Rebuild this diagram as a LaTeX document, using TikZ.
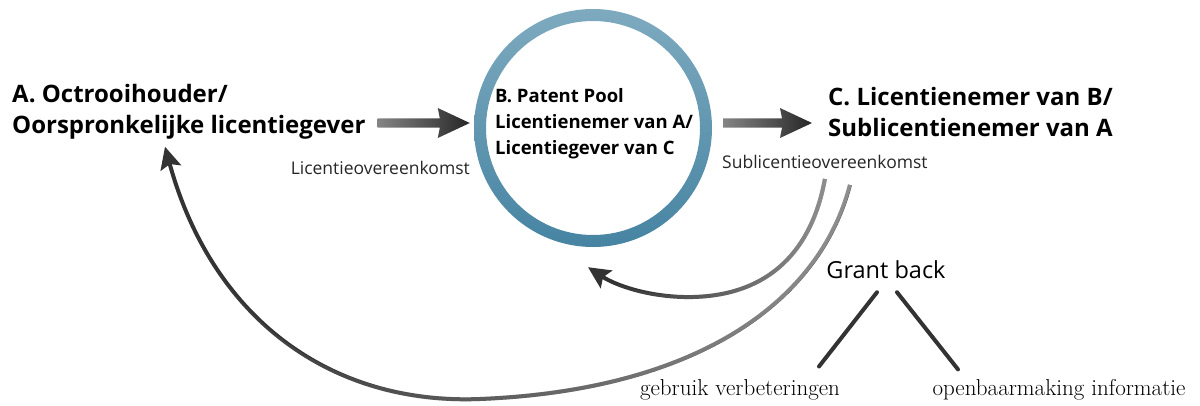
\documentclass[tikz,border=0pt]{standalone}
\usepackage{fontspec}
\setsansfont{Open Sans}
\usepackage{tikz}
\usetikzlibrary{calc,arrows.meta,fadings}
\definecolor{poollight}{RGB}{126,170,191}
\definecolor{pooldark}{RGB}{70,132,162}
\tikzfading[name=lighten right, left color=transparent!100, right color=transparent!55]
\def\gradarrow(#1)(#2){\shade[left color=black!48, right color=black!85] ($(#1)+(0,-4.7)$) -- ($(#2)+(-30,-4.7)$) -- ($(#2)+(-32,-15)$) -- (#2) -- ($(#2)+(-32,15)$) -- ($(#2)+(-30,4.7)$) -- ($(#1)+(0,4.7)$) -- cycle;}

\begin{document}
\begin{tikzpicture}[x=1pt, y=-1pt,
	party/.style={font=\sffamily\bfseries\fontsize{24}{31}\selectfont, align=left, inner sep=0pt},
	pooltext/.style={font=\sffamily\bfseries\fontsize{18.5}{26}\selectfont, align=left, inner sep=0pt},
	deal/.style={font=\sffamily\fontsize{17.5}{20}\selectfont, inner sep=0pt, text=black!85},
	back/.style={line width=4pt, draw=black!80, -{Stealth[length=22pt, width=21pt, inset=4pt]}},
	backfade/.style={line width=4pt, draw=white, path fading=lighten right},
	branch/.style={line width=4pt, draw=black!80, line cap=round},
	outcome/.style={font=\fontsize{23}{26}\selectfont, inner sep=0pt}]
			%%%%% START %%%%%
			\useasboundingbox (0,0) rectangle (1200,405);
			
			% the pool ring
			\node[circle, minimum size=238pt, inner sep=0pt] (pool) at (593,128) {};
			\shade[top color=poollight, bottom color=pooldark, even odd rule] (pool.center) circle (119) (pool.center) circle (107);
			
			\node[party, anchor=west] (owner) at (12,112) {A. Octrooihouder/\\Oorspronkelijke licentiegever};
			\node[pooltext, anchor=west] (pooltxt) at (495,124) {B. Patent Pool\\Licentienemer van A/\\Licentiegever van C};
			\node[party, anchor=west] (licensee) at (828,112) {C. Licentienemer van B/\\Sublicentienemer van A};
			
			\node[deal, anchor=east] (lic) at (470,168) {Licentieovereenkomst};
			\node[deal, anchor=west] (sublic) at (722,162) {Sublicentieovereenkomst};
			
			\node[font=\sffamily\fontsize{23.5}{26}\selectfont, inner sep=0pt] (grant) at (886,270) {Grant back};
			\node[outcome] (use) at (740,390) {gebruik verbeteringen};
			\node[outcome] (info) at (1059,390) {openbaarmaking informatie};
			
			% straight arrows A -> B -> C
			\coordinate (ab0) at ($(owner.east)+(12,11)$);
			\coordinate (ab1) at ($(pool.west)+(-4,-5)$);
			\gradarrow(ab0)(ab1)
			\coordinate (bc0) at ($(pool.east)+(11,-5)$);
			\coordinate (bc1) at ($(licensee.west)+(-16,11)$);
			\gradarrow(bc0)(bc1)
			
			% grant back to B
			\coordinate (r0) at ($(sublic.south)+(0,10)$);
			\coordinate (r1) at ($(pool.south)+(-5,20)$);
			\draw[back] (r0) .. controls (812,250) and (770,295) .. (693,297) .. controls (650,298) and (615,285) .. (r1);
			\draw[backfade] (r0) .. controls (812,250) and (770,295) .. (693,297) .. controls (650,298) and (625,290) .. (610,282);
			
			% grant back to A
			\coordinate (s0) at ($(sublic.south)+(25,16)$);
			\coordinate (s1) at ($(owner.south west)+(153,7)$);
			\draw[back] (s0) .. controls (820,300) and (700,390) .. (480,399) .. controls (330,405) and (212,318) .. (s1);
			\draw[backfade] (s0) .. controls (820,300) and (700,390) .. (480,399) .. controls (330,405) and (212,318) .. ($(s1)+(10,35)$);
			
			% what is granted back
			\draw[branch] ($(grant.south)+(-9,13)$) -- ($(use.north)+(79,-13)$);
			\draw[branch] ($(grant.south)+(11,13)$) -- ($(info.north)+(-101,-10)$);
			
			%%%%% END %%%%%
		\end{tikzpicture}
\end{document}
